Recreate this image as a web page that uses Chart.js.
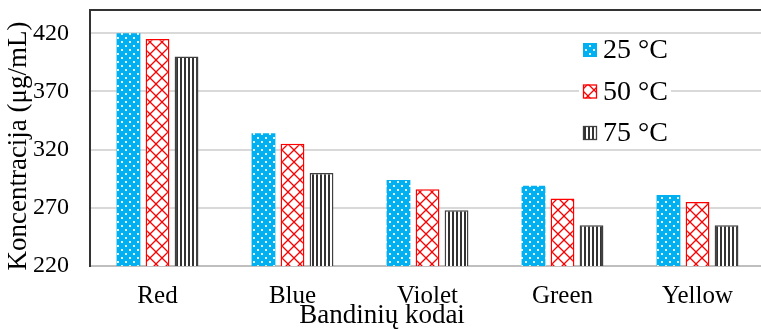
<!DOCTYPE html>
<html>
<head>
<meta charset="utf-8">
<script src="https://cdn.jsdelivr.net/npm/chart.js@4/dist/chart.umd.min.js"></script>
<style>
  html, body { margin: 0; padding: 0; background: #fff; overflow: hidden; }
  canvas { display: block; }
</style>
</head>
<body>
<canvas id="chart" width="770" height="330"></canvas>
<script>
// Concentration by sample code and extraction temperature
const categories = ['Red', 'Blue', 'Violet', 'Green', 'Yellow'];
const seriesNames = ['25 °C', '50 °C', '75 °C'];
const values25 = [420, 334, 294, 289, 281];
const values50 = [415, 325, 286, 278, 275];
const values75 = [400, 300, 268, 255, 255];
const yTickValues = [220, 270, 320, 370, 420];
const yMin = 220;
const yMax = 440;
const xTitle = 'Bandinių kodai';
const yTitle = 'Koncentracija (μg/mL)';

const SERIF = '"Liberation Serif", "Times New Roman", serif';

function makeTile(w, h, paint) {
  const c = document.createElement('canvas');
  c.width = w; c.height = h;
  const g = c.getContext('2d');
  paint(g);
  return document.getElementById('chart').getContext('2d').createPattern(c, 'repeat');
}

// blue fill with small white dots in staggered rows
const dotPattern = makeTile(8, 8, g => {
  g.fillStyle = '#00B0F0';
  g.fillRect(0, 0, 8, 8);
  g.fillStyle = 'rgba(255,255,255,0.9)';
  g.fillRect(1, 1, 2, 2);
  g.fillRect(5, 5, 2, 2);
});

// white fill with red diamond lattice
const latticePattern = makeTile(12, 12, g => {
  g.fillStyle = '#ffffff';
  g.fillRect(0, 0, 12, 12);
  g.strokeStyle = '#FF0000';
  g.lineWidth = 1.3;
  g.beginPath();
  g.moveTo(0, 0); g.lineTo(12, 12);
  g.moveTo(12, 0); g.lineTo(0, 12);
  g.stroke();
});

// dark vertical stripes
const stripePattern = makeTile(4, 4, g => {
  g.fillStyle = '#ffffff';
  g.fillRect(0, 0, 4, 4);
  g.fillStyle = '#333333';
  g.fillRect(0, 0, 2, 4);
});

const frameTitlesLegend = {
  id: 'frameTitlesLegend',
  afterDraw(chart) {
    const { ctx, chartArea: a } = chart;
    ctx.save();
    // top edge of the plot frame
    ctx.strokeStyle = '#333333';
    ctx.lineWidth = 2;
    ctx.beginPath();
    ctx.moveTo(a.left - 1, a.top);
    ctx.lineTo(a.right + 5, a.top);
    ctx.stroke();

    // axis titles
    ctx.fillStyle = '#000000';
    ctx.font = '27px ' + SERIF;
    ctx.textAlign = 'center';
    ctx.textBaseline = 'middle';
    ctx.fillText(xTitle, 382, 316);
    ctx.save();
    ctx.translate(19, 146);
    ctx.rotate(-Math.PI / 2);
    ctx.fillText(yTitle, 0, 0);
    ctx.restore();

    // legend inside the plot area
    const lx = 583, ly0 = 50, step = 41.5, box = 14;
    ctx.fillStyle = '#ffffff';
    ctx.fillRect(lx - 4, 37, 92, 109);
    ctx.font = '28px ' + SERIF;
    ctx.textBaseline = 'middle';
    ctx.textAlign = 'left';
    chart.data.datasets.forEach((ds, i) => {
      const cy = ly0 + i * step;
      ctx.fillStyle = ds.backgroundColor;
      ctx.fillRect(lx, cy - box / 2, box, box);
      if (ds.borderWidth) {
        ctx.strokeStyle = ds.borderColor;
        ctx.lineWidth = 1.3;
        ctx.strokeRect(lx + 0.5, cy - box / 2 + 0.5, box - 1, box - 1);
      }
      ctx.fillStyle = '#000000';
      ctx.fillText(ds.label, lx + 20, cy + 1);
    });
    ctx.restore();
  }
};

new Chart(document.getElementById('chart'), {
  type: 'bar',
  data: {
    labels: categories,
    datasets: [
      { label: seriesNames[0], data: values25, backgroundColor: dotPattern, borderWidth: 0 },
      { label: seriesNames[1], data: values50, backgroundColor: latticePattern, borderColor: '#FF0000', borderWidth: 1.5 },
      { label: seriesNames[2], data: values75, backgroundColor: stripePattern, borderColor: '#404040', borderWidth: 1.5 }
    ]
  },
  options: {
    responsive: false,
    animation: false,
    events: [],
    layout: { padding: { top: 10, right: 5, left: 0, bottom: 0 } },
    datasets: {
      bar: { categoryPercentage: 0.645, barPercentage: 0.82 }
    },
    plugins: {
      legend: { display: false },
      tooltip: { enabled: false }
    },
    scales: {
      x: {
        grid: { display: false, drawTicks: false },
        border: { display: true, color: '#bfbfbf', width: 2 },
        ticks: { color: '#000', font: { family: SERIF, size: 25 }, padding: 15 },
        title: { display: false },
        afterFit(scale) {
          scale.height = 64;
          scale.paddingLeft = 0;
          scale.paddingRight = 0;
        }
      },
      y: {
        min: yMin,
        max: yMax,
        grid: { color: '#d9d9d9', lineWidth: 2, drawTicks: false },
        border: { display: true, color: '#333333', width: 2 },
        afterBuildTicks(scale) { scale.ticks = yTickValues.map(v => ({ value: v })); },
        ticks: { color: '#000', font: { family: SERIF, size: 24 }, padding: 21 },
        title: { display: false },
        afterFit(scale) {
          scale.width = 90;
          scale.paddingTop = 0;
          scale.paddingBottom = 0;
        }
      }
    }
  },
  plugins: [frameTitlesLegend]
});
</script>
</body>
</html>
